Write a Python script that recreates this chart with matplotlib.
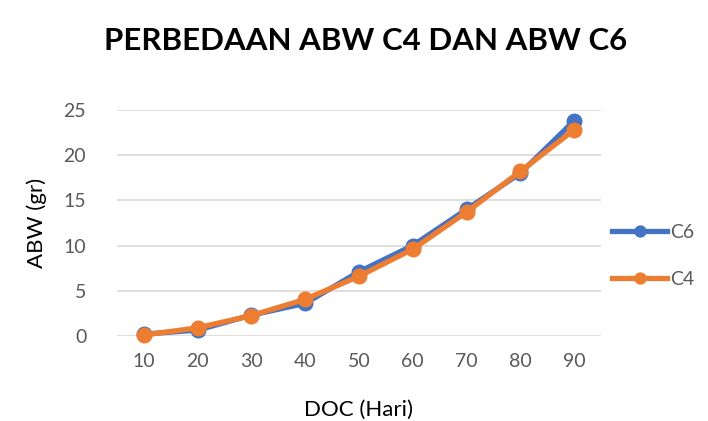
import matplotlib
matplotlib.use("Agg")
import matplotlib.pyplot as plt

doc = [10, 20, 30, 40, 50, 60, 70, 80, 90]
c6 = [0.2, 0.65, 2.3, 3.6, 7.1, 10.0, 14.0, 18.0, 23.8]
c4 = [0.1, 0.9, 2.25, 4.05, 6.6, 9.6, 13.7, 18.2, 22.8]
yticks = [0, 5, 10, 15, 20, 25]

plt.rcParams['font.family'] = ['Lato', 'DejaVu Sans']

fig = plt.figure(figsize=(7.08, 4.21), dpi=100)
ax = fig.add_axes([0.165, 0.202, 0.684, 0.537])

xpos = list(range(len(doc)))
ax.plot(xpos, c6, color='#4472C4', lw=3.8, marker='o', ms=10.5, label='C6', clip_on=False, zorder=3)
ax.plot(xpos, c4, color='#ED7D31', lw=3.8, marker='o', ms=10.5, label='C4', clip_on=False, zorder=4)

ax.set_xlim(-0.5, len(doc) - 0.5)
ax.set_ylim(0, 25)
ax.set_yticks(yticks)
ax.set_xticks(xpos)
ax.set_xticklabels([str(d) for d in doc])
ax.grid(axis='y', color='#d9d9d9', lw=1.2)
ax.set_axisbelow(True)
for s in ax.spines.values():
    s.set_visible(False)
ax.tick_params(length=0, labelsize=14, colors='#595959', pad=12)
ax.tick_params(axis='y', pad=22)

ax.set_ylabel('ABW (gr)', fontsize=16, color='#000000', labelpad=12)
ax.set_xlabel('DOC (Hari)', fontsize=16, color='#000000', labelpad=22)

fig.text(0.517, 0.903, 'PERBEDAAN ABW C4 DAN ABW C6', ha='center', va='center',
         fontsize=22.5, fontweight='bold', color='#000000')

leg = ax.legend(loc='center left', bbox_to_anchor=(0.995, 0.355), frameon=False,
                fontsize=14, handlelength=2.8, labelspacing=1.55, handletextpad=0.15,
                borderaxespad=0.3, markerscale=0.75)
for t in leg.get_texts():
    t.set_color('#595959')

fig.savefig('out.png', dpi=100)
